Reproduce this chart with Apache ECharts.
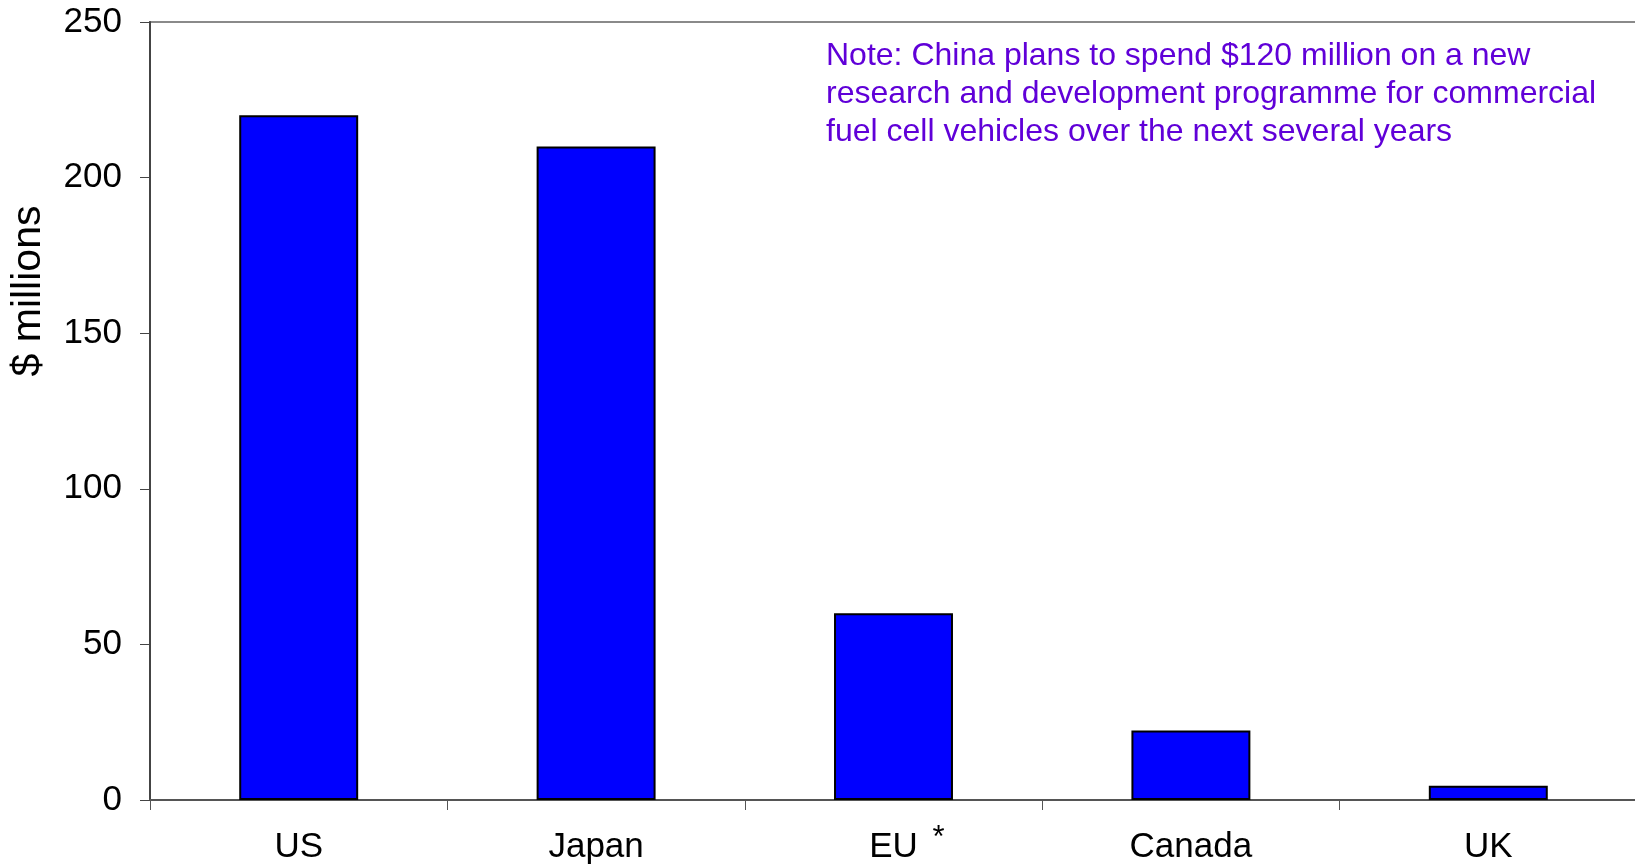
<!DOCTYPE html>
<html>
<head>
<meta charset="utf-8">
<style>
  html, body { margin: 0; padding: 0; background: #ffffff; }
  #chart { width: 1635px; height: 864px; }
</style>
<script src="https://cdn.jsdelivr.net/npm/echarts@6/dist/echarts.min.js"></script>
</head>
<body>
<div id="chart"></div>
<script>
// Government fuel cell R&D spending by country
const countries = ['US', 'Japan', 'EU', 'Canada', 'UK'];
const spending = [220, 210, 60, 22.3, 4.6];
const yTicks = [0, 50, 100, 150, 200, 250];
const yTitle = '$ millions';
const noteLines = [
  'Note: China plans to spend $120 million on a new',
  'research and development programme for commercial',
  'fuel cell vehicles over the next several years'
];
// countries marked with a footnote asterisk
const starred = ['EU'];

const FONT = '"Liberation Sans", Arial, sans-serif';
const chart = echarts.init(document.getElementById('chart'), null, { renderer: 'canvas' });

chart.setOption({
  animation: false,
  backgroundColor: '#ffffff',
  grid: {
    left: 150, right: -2, top: 22, bottom: 64,
    containLabel: false, outerBoundsMode: 'none',
    show: true, borderColor: '#8a8a8a', borderWidth: 2, backgroundColor: 'transparent'
  },
  xAxis: [
    {
      type: 'category',
      data: countries,
      axisLine: { show: true, lineStyle: { color: '#555555', width: 2 } },
      axisTick: { show: true, length: 10, alignWithLabel: false, lineStyle: { color: '#555555', width: 1 } },
      axisLabel: { interval: 0, color: '#000000', fontFamily: FONT, fontSize: 35, margin: 30 },
      splitLine: { show: false }
    },
    {
      // raised footnote asterisks beside the marked country names
      type: 'category',
      data: countries,
      position: 'bottom',
      axisLine: { show: false },
      axisTick: { show: false },
      splitLine: { show: false },
      axisLabel: {
        interval: 0, margin: 23,
        formatter: function (v) { return starred.indexOf(v) >= 0 ? '{s|*}' : ''; },
        rich: { s: { fontSize: 31, fontFamily: FONT, color: '#000000', padding: [0, 0, 0, 90] } }
      }
    }
  ],
  yAxis: {
    type: 'value',
    min: yTicks[0],
    max: yTicks[yTicks.length - 1],
    interval: yTicks[1] - yTicks[0],
    axisLine: { show: true, lineStyle: { color: '#444444', width: 2 } },
    axisTick: { show: true, length: 10, lineStyle: { color: '#444444', width: 1 } },
    axisLabel: { color: '#000000', fontFamily: FONT, fontSize: 35, margin: 28 },
    splitLine: { show: false }
  },
  series: [{
    type: 'bar',
    xAxisIndex: 0,
    data: spending,
    barWidth: '40%',
    itemStyle: { color: '#0000ff', borderColor: '#000000', borderWidth: 2 }
  }],
  graphic: [
    {
      type: 'text', x: 29, y: 291, rotation: Math.PI / 2,
      style: {
        text: yTitle, fill: '#000000', font: '41px ' + FONT,
        align: 'center', verticalAlign: 'middle'
      }
    },
    {
      type: 'text', x: 826, y: 37,
      style: {
        text: noteLines.join('\n'), fill: '#6000d8', font: '32px ' + FONT,
        lineHeight: 38, align: 'left', verticalAlign: 'top'
      }
    }
  ]
});
</script>
</body>
</html>
